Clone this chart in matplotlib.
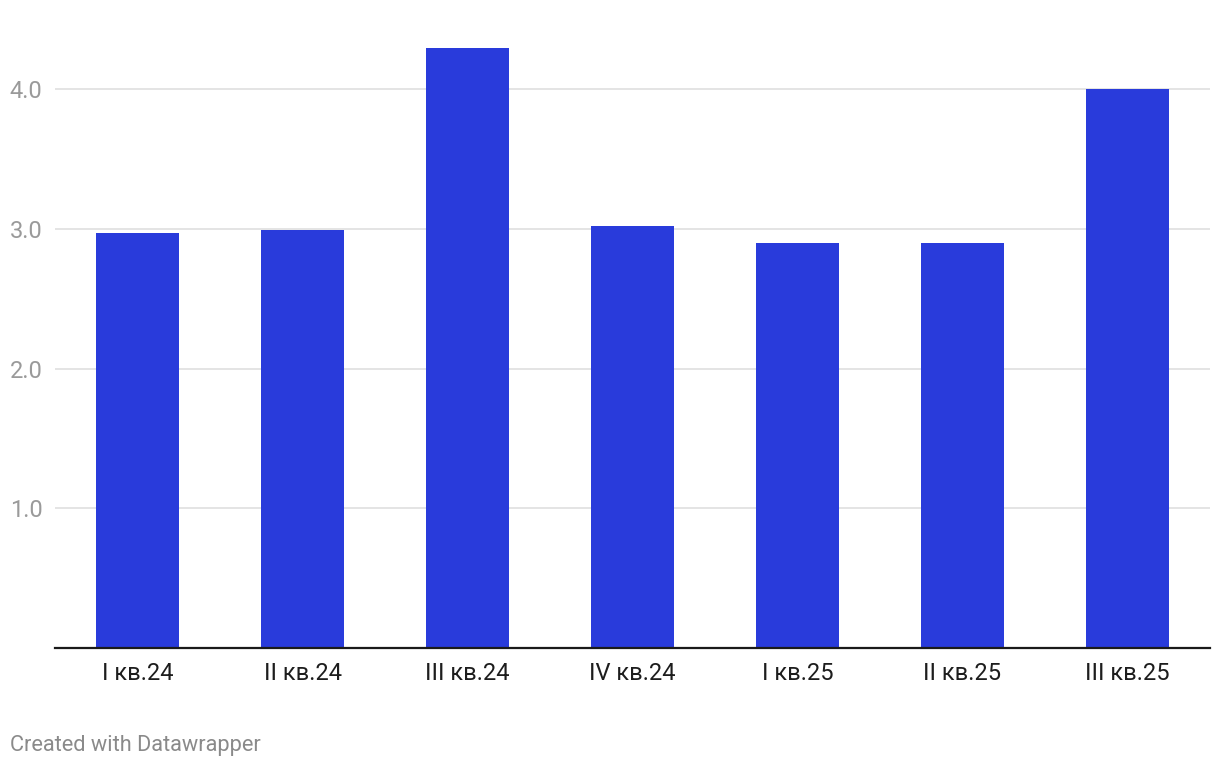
import matplotlib
matplotlib.use("Agg")
import matplotlib.pyplot as plt

categories = ["I кв.24", "II кв.24", "III кв.24", "IV кв.24", "I кв.25", "II кв.25", "III кв.25"]
values = [2.97, 2.99, 4.29, 3.02, 2.9, 2.9, 4.0]
yticks = [1.0, 2.0, 3.0, 4.0]
ytick_labels = ["1.0", "2.0", "3.0", "4.0"]

plt.rcParams['font.family'] = ['Roboto', 'DejaVu Sans']

W, H = 1220, 768
fig = plt.figure(figsize=(W / 100, H / 100), dpi=100)
left, right, bottom, top = 55, 1210, 648, 40
ax = fig.add_axes([left / W, 1 - bottom / H, (right - left) / W, (bottom - top) / H])

x = list(range(len(categories)))
ax.bar(x, values, width=0.5, color="#293BDB", zorder=3)
ax.set_xlim(-0.5, len(categories) - 0.5)
ax.set_ylim(0, (bottom - top) / ((bottom - 89) / 4.0))

ax.set_yticks(yticks)
ax.set_yticklabels(ytick_labels)
ax.set_xticks(x)
ax.set_xticklabels(categories)

ax.grid(axis="y", color="#e4e4e4", linewidth=1.4, zorder=0)
ax.tick_params(axis="y", length=0, pad=9, labelsize=17, labelcolor="#9a9a9a")
ax.tick_params(axis="x", length=0, pad=10, labelsize=17, labelcolor="#1d1d1d")

for s in ["top", "right", "left"]:
    ax.spines[s].set_visible(False)
ax.spines["bottom"].set_color("#1a1a1a")
ax.spines["bottom"].set_linewidth(1.6)
ax.spines["bottom"].set_zorder(4)

fig.text(10 / W, 1 - 745 / H, "Created with Datawrapper", fontsize=15.7, color="#8a8a8a",
         ha="left", va="center")

fig.savefig("out.png", dpi=100, facecolor="white")
